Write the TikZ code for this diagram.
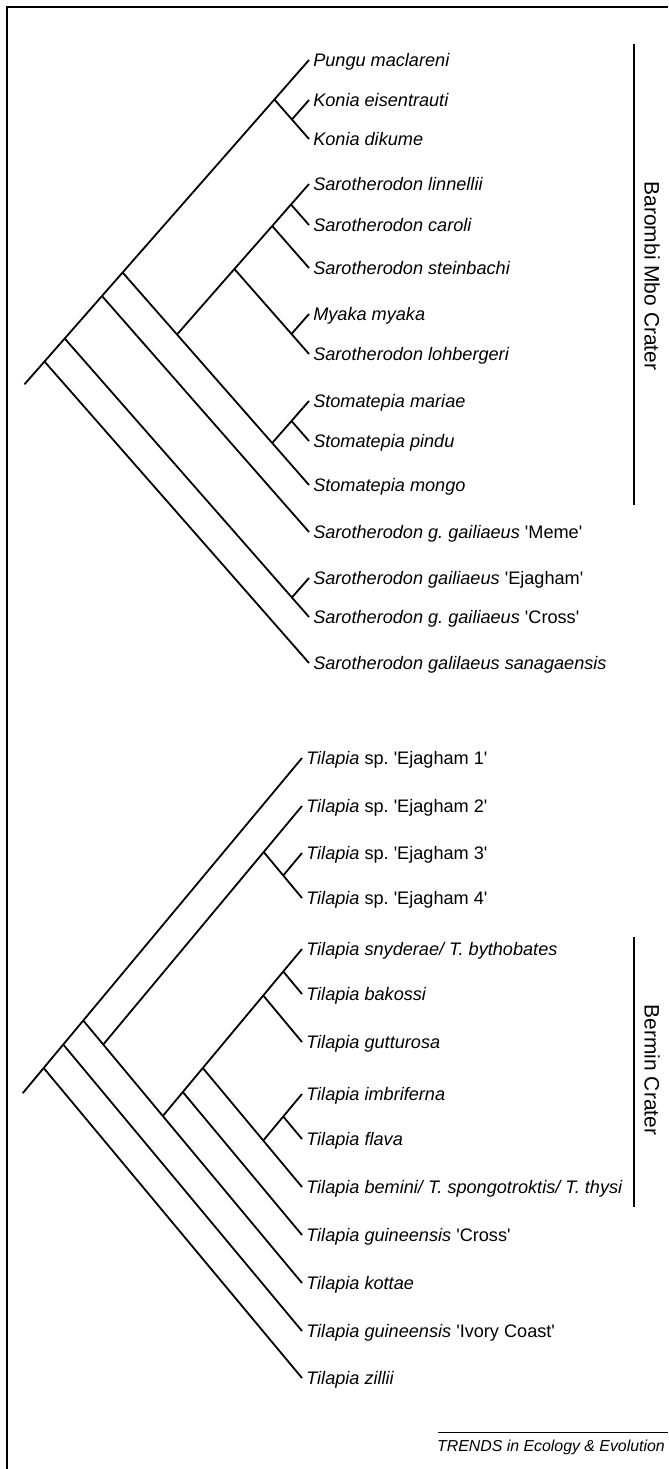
\documentclass[tikz,border=0pt]{standalone}
\usepackage{fontspec}
\setmainfont{Liberation Sans}
\newcommand{\sq}[1]{\textquotesingle#1\textquotesingle}
\frenchspacing

\begin{document}
\begin{tikzpicture}[x=0.75pt,y=-0.75pt,
  branch/.style={line width=1.35pt},
  taxon/.style={anchor=west, inner xsep=3pt, inner ysep=0pt, text height=9.7pt, text depth=0pt, font=\fontsize{13.6}{16}\selectfont},
  crater/.style={rotate=-90, inner sep=0pt, font=\fontsize{15.7}{18}\selectfont}]
\useasboundingbox (0,0) rectangle (668,1469);
\draw[line width=0.9pt] (7,1469) -- (7,7) -- (668,7);

% Barombi Mbo tree
\node[taxon] (t1) at (309,60) {\textit{Pungu maclareni}};
\node[taxon] (t2) at (309,100) {\textit{Konia eisentrauti}};
\node[taxon] (t3) at (309,139) {\textit{Konia dikume}};
\node[taxon] (t4) at (309,184) {\textit{Sarotherodon linnellii}};
\node[taxon] (t5) at (309,225) {\textit{Sarotherodon caroli}};
\node[taxon] (t6) at (309,268) {\textit{Sarotherodon steinbachi}};
\node[taxon] (t7) at (309,314) {\textit{Myaka myaka}};
\node[taxon] (t8) at (309,354) {\textit{Sarotherodon lohbergeri}};
\node[taxon] (t9) at (309,401) {\textit{Stomatepia mariae}};
\node[taxon] (t10) at (309,441) {\textit{Stomatepia pindu}};
\node[taxon] (t11) at (309,485) {\textit{Stomatepia mongo}};
\node[taxon] (t12) at (309,532) {\textit{Sarotherodon g. gailiaeus} \sq{Meme}};
\node[taxon] (t13) at (309,578) {\textit{Sarotherodon gailiaeus} \sq{Ejagham}};
\node[taxon] (t14) at (309,617) {\textit{Sarotherodon g. gailiaeus} \sq{Cross}};
\node[taxon] (t15) at (309,663) {\textit{Sarotherodon galilaeus sanagaensis}};

\coordinate (konia) at (291.9,119.5);
\coordinate (pk) at (274.4,99.5);
\coordinate (lc) at (291,204.5);
\coordinate (lcs) at (272.2,226);
\coordinate (mylo) at (291.5,334);
\coordinate (sar) at (234.4,269);
\coordinate (mp) at (291.5,421);
\coordinate (stom) at (272.2,443);
\coordinate (bm) at (177,334.5);
\coordinate (n4) at (122.6,272.5);
\coordinate (n3) at (102,296);
\coordinate (ec) at (291.9,597.5);
\coordinate (n2) at (64.7,338.5);
\coordinate (n1) at (44.5,361.5);
\coordinate (root1) at (24.5,384.3);

\draw[branch] (root1) -- (n1);
\draw[branch] (n1) -- (n2);
\draw[branch] (n1) -- (t15.west);
\draw[branch] (n2) -- (n3);
\draw[branch] (n2) -- (ec);
\draw[branch] (ec) -- (t13.west);
\draw[branch] (ec) -- (t14.west);
\draw[branch] (n3) -- (n4);
\draw[branch] (n3) -- (t12.west);
\draw[branch] (n4) -- (pk);
\draw[branch] (n4) -- (bm);
\draw[branch] (pk) -- (t1.west);
\draw[branch] (pk) -- (konia);
\draw[branch] (konia) -- (t2.west);
\draw[branch] (konia) -- (t3.west);
\draw[branch] (bm) -- (sar);
\draw[branch] (bm) -- (stom);
\draw[branch] (sar) -- (lcs);
\draw[branch] (sar) -- (mylo);
\draw[branch] (lcs) -- (lc);
\draw[branch] (lcs) -- (t6.west);
\draw[branch] (lc) -- (t4.west);
\draw[branch] (lc) -- (t5.west);
\draw[branch] (mylo) -- (t7.west);
\draw[branch] (mylo) -- (t8.west);
\draw[branch] (stom) -- (mp);
\draw[branch] (stom) -- (t11.west);
\draw[branch] (mp) -- (t9.west);
\draw[branch] (mp) -- (t10.west);

\draw[line width=1.9pt] (634,44) -- (634,505);
\node[crater] (barombi) at (652,276) {Barombi Mbo Crater};

% Bermin tree
\node[taxon] (u1) at (302,758) {\textit{Tilapia} sp. \sq{Ejagham 1}};
\node[taxon] (u2) at (302,806) {\textit{Tilapia} sp. \sq{Ejagham 2}};
\node[taxon] (u3) at (302,853) {\textit{Tilapia} sp. \sq{Ejagham 3}};
\node[taxon] (u4) at (302,898) {\textit{Tilapia} sp. \sq{Ejagham 4}};
\node[taxon] (u5) at (302,949) {\textit{Tilapia snyderae/ T. bythobates}};
\node[taxon] (u6) at (302,994) {\textit{Tilapia bakossi}};
\node[taxon] (u7) at (302,1042) {\textit{Tilapia gutturosa}};
\node[taxon] (u8) at (302,1094) {\textit{Tilapia imbriferna}};
\node[taxon] (u9) at (302,1139) {\textit{Tilapia flava}};
\node[taxon] (u10) at (302,1187) {\textit{Tilapia bemini/ T. spongotroktis/ T. thysi}};
\node[taxon] (u11) at (302,1235) {\textit{Tilapia guineensis} \sq{Cross}};
\node[taxon] (u12) at (302,1283) {\textit{Tilapia kottae}};
\node[taxon] (u13) at (302,1331) {\textit{Tilapia guineensis} \sq{Ivory Coast}};
\node[taxon] (u14) at (302,1378) {\textit{Tilapia zillii}};

\coordinate (e34) at (283.25,875.5);
\coordinate (e234) at (263.7,852);
\coordinate (sb) at (283.25,971.5);
\coordinate (sbg) at (263.25,995.5);
\coordinate (imfl) at (283.25,1116.5);
\coordinate (ifb) at (263.25,1140.5);
\coordinate (bermin) at (202.8,1068);
\coordinate (bc) at (182.8,1092);
\coordinate (bck) at (162.8,1116);
\coordinate (m2) at (103.25,1044.5);
\coordinate (m1) at (83.25,1020.5);
\coordinate (m0) at (63.25,1044.5);
\coordinate (mr) at (43.7,1068);
\coordinate (root2) at (22.7,1093.2);

\draw[branch] (root2) -- (mr);
\draw[branch] (mr) -- (m0);
\draw[branch] (mr) -- (u14.west);
\draw[branch] (m0) -- (m1);
\draw[branch] (m0) -- (u13.west);
\draw[branch] (m1) -- (u1.west);
\draw[branch] (m1) -- (m2);
\draw[branch] (m2) -- (e234);
\draw[branch] (m2) -- (bck);
\draw[branch] (e234) -- (u2.west);
\draw[branch] (e234) -- (e34);
\draw[branch] (e34) -- (u3.west);
\draw[branch] (e34) -- (u4.west);
\draw[branch] (bck) -- (bc);
\draw[branch] (bck) -- (u12.west);
\draw[branch] (bc) -- (bermin);
\draw[branch] (bc) -- (u11.west);
\draw[branch] (bermin) -- (sbg);
\draw[branch] (bermin) -- (ifb);
\draw[branch] (sbg) -- (sb);
\draw[branch] (sbg) -- (u7.west);
\draw[branch] (sb) -- (u5.west);
\draw[branch] (sb) -- (u6.west);
\draw[branch] (ifb) -- (imfl);
\draw[branch] (ifb) -- (u10.west);
\draw[branch] (imfl) -- (u8.west);
\draw[branch] (imfl) -- (u9.west);

\draw[line width=1.9pt] (634,937) -- (634,1207);
\node[crater] (bermincrater) at (652,1070) {Bermin Crater};

\draw[line width=0.7pt] (438,1432) -- (668,1432);
\node[anchor=east, inner sep=0pt, font=\itshape\fontsize{11.9}{14}\selectfont] (trends) at (665,1447) {TRENDS in Ecology \& Evolution};
\end{tikzpicture}
\end{document}
